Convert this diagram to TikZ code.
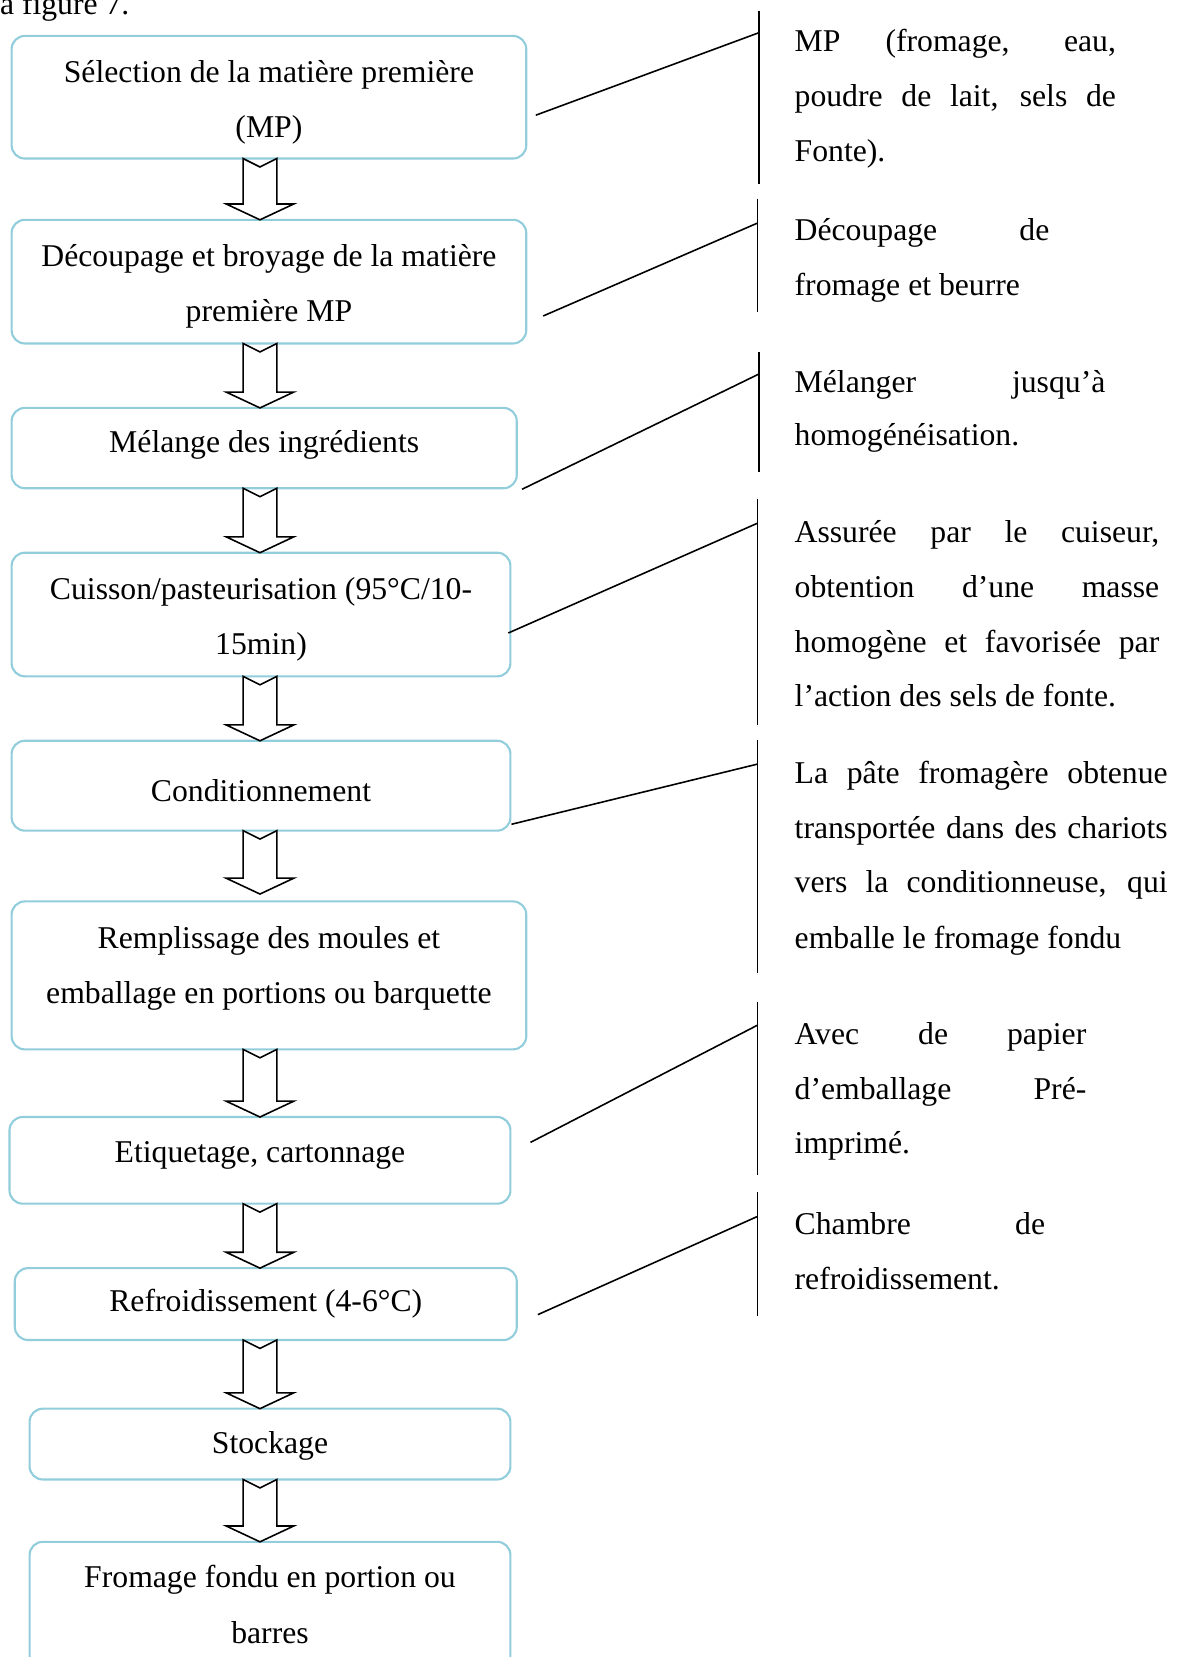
\documentclass[tikz,border=0pt]{standalone}
\usepackage{fontspec}
\setmainfont{Liberation Serif}
\usetikzlibrary{calc}
\definecolor{boxblue}{RGB}{146,205,220}

% justified line of a side note
\newcommand{\jline}[2]{\makebox[#1][s]{#2}}

% hollow block arrow between two steps, on the common axis;
% the optional argument leaves a gap above the lower step
\newcommand{\flowarrow}[3][0]{%
  \path (axis |- #2.south) coordinate (#2-tail)
        ($(axis |- #3.north)+(0,-#1)$) coordinate (#3-tip);
  \draw[flowarrowline]
    ($(#2-tail)+(-16,0)$) -- ($(#2-tail)+(0,8)$) -- ($(#2-tail)+(16,0)$)
    -- ($(#3-tip)+(16,-15)$) -- ($(#3-tip)+(32,-15)$) -- (#3-tip)
    -- ($(#3-tip)+(-32,-15)$) -- ($(#3-tip)+(-16,-15)$) -- cycle;}

\begin{document}
\begin{tikzpicture}[x=0.4pt,y=-0.4pt,
  txt/.style={font=\fontsize{12pt}{20.8pt}\selectfont, inner sep=0pt, outer sep=0pt},
  steptext/.style={txt, anchor=base},
  notetext/.style={txt, anchor=base west},
  stepbox/.style={draw=boxblue, line width=0.8pt, rounded corners=5pt,
                  inner sep=0pt, outer sep=0pt},
  flowarrowline/.style={draw=black, line width=0.6pt, fill=white, line join=miter},
  leader/.style={draw=black, line width=0.6pt}]

\useasboundingbox (0,0) rectangle (1119,1568);
\clip (0,0) rectangle (1119,1568);

\coordinate (axis) at (246,0);

% running text above the chart
\node[notetext] (intro) at (0,14) {a figure 7.};

% process steps
\node[stepbox, minimum width=194.8pt, minimum height=46.4pt] (b1) at (254.5,92) {};
\node[stepbox, minimum width=194.8pt, minimum height=46.8pt] (b2) at (254.5,266.5) {};
\node[stepbox, minimum width=191.2pt, minimum height=30.4pt] (b3) at (250,424) {};
\node[stepbox, minimum width=188.8pt, minimum height=46.8pt] (b4) at (247,581.5) {};
\node[stepbox, minimum width=188.8pt, minimum height=34pt]   (b5) at (247,743.5) {};
\node[stepbox, minimum width=194.8pt, minimum height=56pt]   (b6) at (254.5,923) {};
\node[stepbox, minimum width=189.6pt, minimum height=32.8pt] (b7) at (246,1098) {};
\node[stepbox, minimum width=190pt,   minimum height=27.2pt] (b8) at (251.5,1234) {};
\node[stepbox, minimum width=182pt,   minimum height=26.8pt] (b9) at (255.5,1366.5) {};
\node[stepbox, minimum width=182pt,   minimum height=56.4pt] (b10) at (255.5,1529.5) {};

% step labels
\node[steptext] (t1a) at (254.5,78)  {Sélection de la matière première};
\node[steptext] (t1b) at (254.5,130) {(MP)};
\node[steptext] (t2a) at (254.5,252) {Découpage et broyage de la matière};
\node[steptext] (t2b) at (254.5,304) {première MP};
\node[steptext] (t3a) at (250,428)   {Mélange des ingrédients};
\node[steptext] (t4a) at (247,567)   {Cuisson/pasteurisation (95°C/10-};
\node[steptext] (t4b) at (247,619)   {15min)};
\node[steptext] (t5a) at (247,758)   {Conditionnement};
\node[steptext] (t6a) at (254.5,898) {Remplissage des moules et};
\node[steptext] (t6b) at (254.5,950) {emballage en portions ou barquette};
\node[steptext] (t7a) at (246,1100)  {Etiquetage, cartonnage};
\node[steptext] (t8a) at (251.5,1241){Refroidissement (4-6°C)};
\node[steptext] (t9a) at (255.5,1375){Stockage};
\node[steptext] (t10a) at (255.5,1502){Fromage fondu en portion ou};
\node[steptext] (t10b) at (255.5,1555){barres};

% arrows between steps
\flowarrow{b1}{b2}
\flowarrow{b2}{b3}
\flowarrow{b3}{b4}
\flowarrow{b4}{b5}
\flowarrow[7]{b5}{b6}
\flowarrow{b6}{b7}
\flowarrow{b7}{b8}
\flowarrow{b8}{b9}
\flowarrow{b9}{b10}

% side notes: bracket, leader line and text
\coordinate (v1t) at (718,10);   \coordinate (v1b) at (718,174);
\coordinate (j1) at (718,31);    \coordinate (s1) at (507,109);
\coordinate (v2t) at (717,188);  \coordinate (v2b) at (717,295);
\coordinate (j2) at (717,211);   \coordinate (s2) at (514,299);
\coordinate (v3t) at (718,333);  \coordinate (v3b) at (718,447);
\coordinate (j3) at (718,354);   \coordinate (s3) at (494,463);
\coordinate (v4t) at (717,472);  \coordinate (v4b) at (717,686);
\coordinate (j4) at (717,495);   \coordinate (s4) at (481,599);
\coordinate (v5t) at (717,700);  \coordinate (v5b) at (717,921);
\coordinate (j5) at (717,723);   \coordinate (s5) at (484,780);
\coordinate (v6t) at (717,948);  \coordinate (v6b) at (717,1112);
\coordinate (j6) at (717,970);   \coordinate (s6) at (502,1081);
\coordinate (v7t) at (717,1128); \coordinate (v7b) at (717,1245);
\coordinate (j7) at (717,1151);  \coordinate (s7) at (509,1244);

\foreach \i in {1,...,7}{
  \draw[leader] (v\i t) -- (v\i b);
  \draw[leader] (s\i) -- (j\i);
}

\node[notetext] (n1a) at (752,49)  {\jline{121.6pt}{MP (fromage, eau,}};
\node[notetext] (n1b) at (752,101) {\jline{121.6pt}{poudre de lait, sels de}};
\node[notetext] (n1c) at (752,153) {Fonte).};

\node[notetext] (n2a) at (752,228) {\jline{96.4pt}{Découpage de}};
\node[notetext] (n2b) at (752,280) {fromage et beurre};

\node[notetext] (n3a) at (752,371) {\jline{117.6pt}{Mélanger jusqu’à}};
\node[notetext] (n3b) at (752,422) {homogénéisation.};

\node[notetext] (n4a) at (752,513) {\jline{138pt}{Assurée par le cuiseur,}};
\node[notetext] (n4b) at (752,565) {\jline{138pt}{obtention d’une masse}};
\node[notetext] (n4c) at (752,617) {\jline{138pt}{homogène et favorisée par}};
\node[notetext] (n4d) at (752,669) {l’action des sels de fonte.};

\node[notetext] (n5a) at (752,741) {\jline{141.2pt}{La pâte fromagère obtenue}};
\node[notetext] (n5b) at (752,793) {\jline{141.2pt}{transportée dans des chariots}};
\node[notetext] (n5c) at (752,845) {\jline{141.2pt}{vers la conditionneuse, qui}};
\node[notetext] (n5d) at (752,898) {emballe le fromage fondu};

\node[notetext] (n6a) at (752,988)  {\jline{110.4pt}{Avec de papier}};
\node[notetext] (n6b) at (752,1040) {\jline{110.4pt}{d’emballage Pré-}};
\node[notetext] (n6c) at (752,1092) {imprimé.};

\node[notetext] (n7a) at (752,1168) {\jline{94.8pt}{Chambre de}};
\node[notetext] (n7b) at (752,1220) {refroidissement.};

\end{tikzpicture}
\end{document}
